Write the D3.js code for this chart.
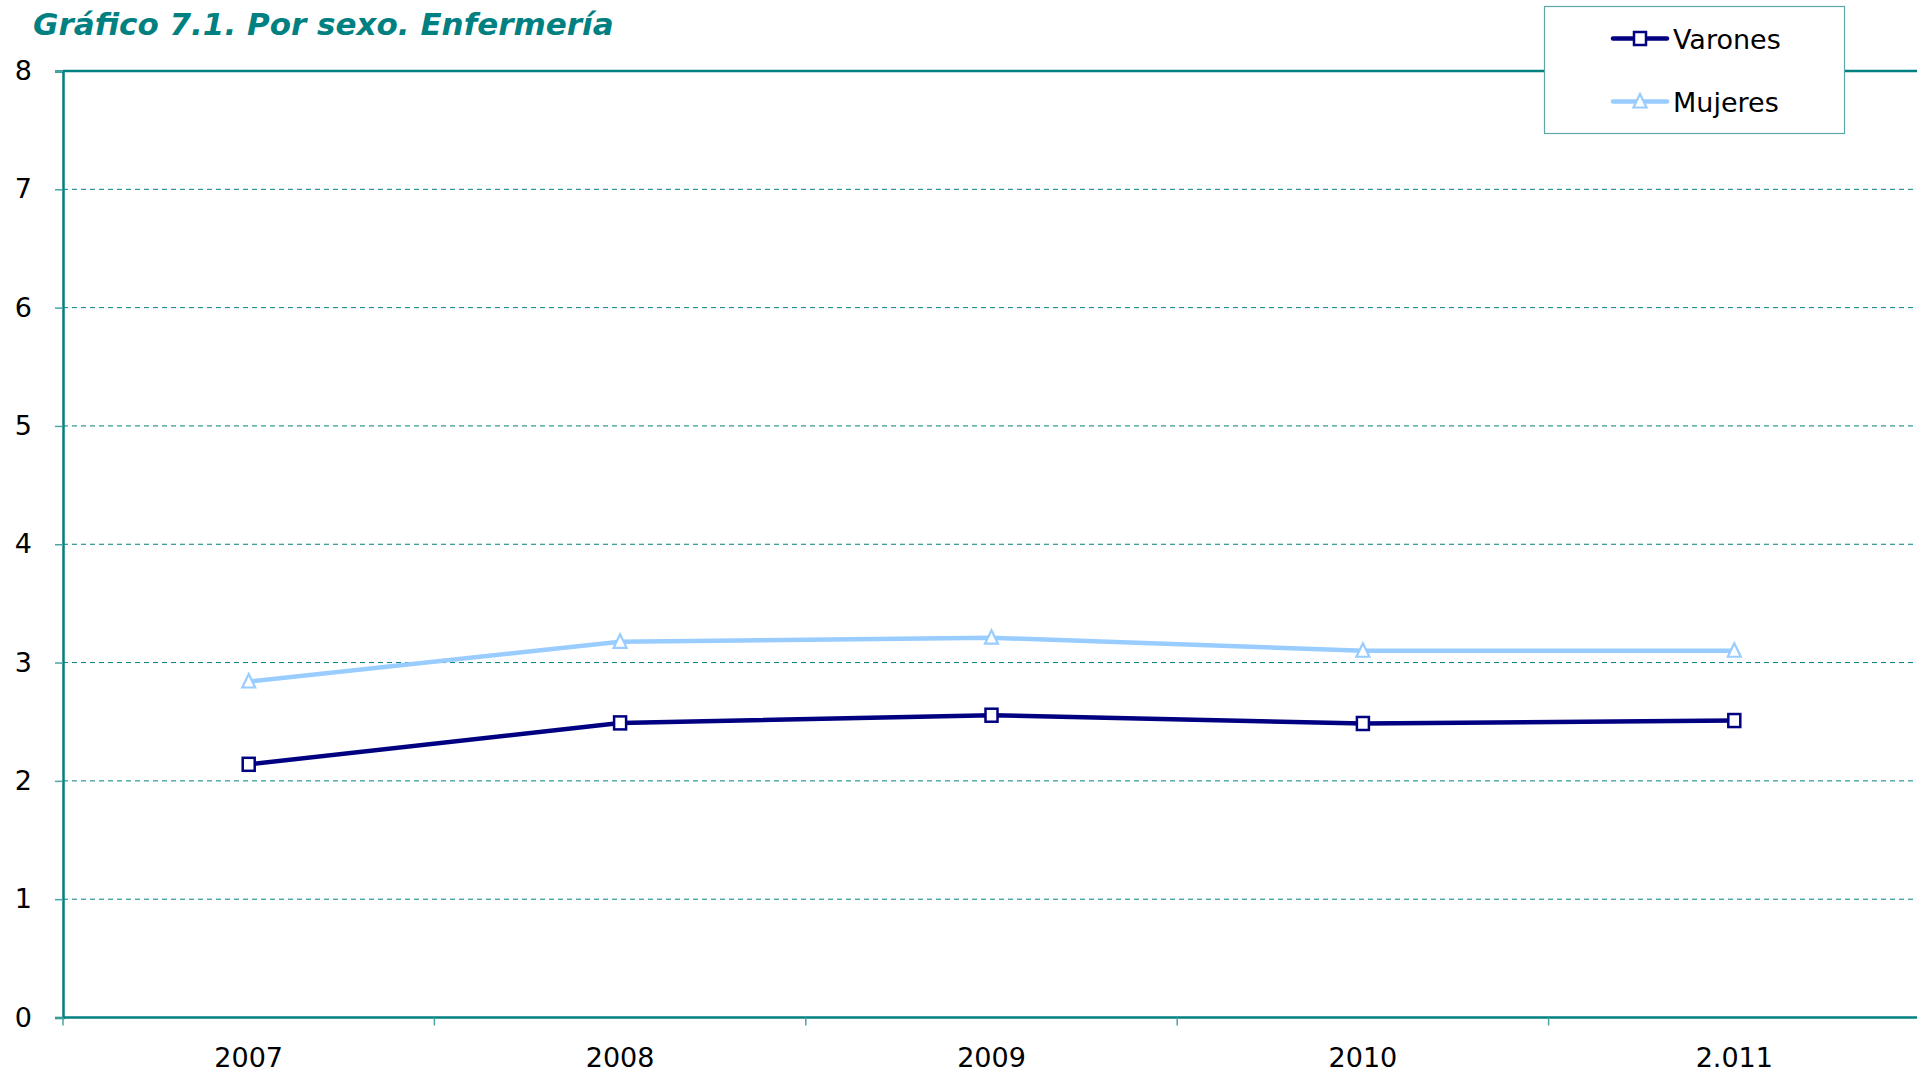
<!DOCTYPE html>
<html>
<head>
<meta charset="utf-8">
<script src="https://cdn.jsdelivr.net/npm/d3@7"></script>
<style>
  body { margin: 0; background: #fff; overflow: hidden; }
  text { font-family: "DejaVu Sans", Verdana, sans-serif; }
</style>
</head>
<body>
<svg id="chart"></svg>
<script>
// data
var years = ["2007", "2008", "2009", "2010", "2.011"]
var varones = [2.14, 2.49, 2.555, 2.485, 2.51]
var mujeres = [2.84, 3.175, 3.21, 3.10, 3.10]
var yTicks = [0, 1, 2, 3, 4, 5, 6, 7, 8]

var width = 1917, height = 1074
var margins = {left: 63, top: 71, bottom: 1017.5}
var band = 371.4
var teal = "#008080"

var svg = d3.select("#chart")
  .attr("width", width)
  .attr("height", height)

var xScale = d3.scaleBand()
  .domain(years)
  .range([margins.left, margins.left + band * years.length])
  .padding(0)

var yScale = d3.scaleLinear()
  .domain([0, 8])
  .range([margins.bottom, margins.top])

// title
svg.append("text")
  .attr("x", 33)
  .attr("y", 35)
  .attr("font-size", 31)
  .attr("font-weight", "bold")
  .attr("font-style", "italic")
  .attr("fill", teal)
  .text("Gráfico 7.1. Por sexo. Enfermería")

// dashed gridlines
svg.append("g")
  .selectAll("line")
  .data(yTicks.filter(d => d > 0 && d < 8))
  .enter().append("line")
  .attr("x1", margins.left)
  .attr("x2", width)
  .attr("y1", d => yScale(d))
  .attr("y2", d => yScale(d))
  .attr("stroke", teal)
  .attr("stroke-width", 1)
  .attr("stroke-dasharray", "5,4")

// top border of plot
svg.append("line")
  .attr("x1", margins.left).attr("x2", width)
  .attr("y1", yScale(8)).attr("y2", yScale(8))
  .attr("stroke", teal).attr("stroke-width", 2.5)

// y axis
var yAxis = svg.append("g")
  .attr("transform", "translate(" + margins.left + ",0)")
  .call(d3.axisLeft(yScale).tickValues(yTicks).tickSize(8).tickFormat(d3.format("d")))
yAxis.select(".domain").attr("stroke", teal).attr("stroke-width", 2.5)
yAxis.selectAll(".tick line").attr("stroke", "#4aa5a5").attr("stroke-width", 1.5)
yAxis.selectAll(".tick text").attr("font-size", 27).attr("fill", "#000")
  .attr("font-family", "DejaVu Sans")
  .attr("x", -31)

// x axis (ticks at category boundaries)
var xAxis = svg.append("g")
  .attr("transform", "translate(0," + margins.bottom + ")")
xAxis.append("line")
  .attr("x1", margins.left).attr("x2", width)
  .attr("stroke", teal).attr("stroke-width", 2.5)
xAxis.selectAll(".xtick")
  .data(years)
  .enter().append("line")
  .attr("class", "xtick")
  .attr("x1", d => xScale(d)).attr("x2", d => xScale(d))
  .attr("y1", 0).attr("y2", 8)
  .attr("stroke", "#4aa5a5").attr("stroke-width", 1.5)
xAxis.selectAll(".xlabel")
  .data(years)
  .enter().append("text")
  .attr("class", "xlabel")
  .attr("x", d => xScale(d) + xScale.bandwidth() / 2)
  .attr("y", 49)
  .attr("text-anchor", "middle")
  .attr("font-size", 27)
  .text(d => d)

var line = d3.line()
  .x((d, i) => xScale(years[i]) + xScale.bandwidth() / 2)
  .y(d => yScale(d))

var series = [
  {name: "Varones", values: varones, color: "#000080", marker: "square"},
  {name: "Mujeres", values: mujeres, color: "#99CCFF", marker: "triangle"}
]

function drawMarker(g, type, color, x, y) {
  if (type == "square") {
    g.append("rect")
      .attr("x", x - 6).attr("y", y - 6.5)
      .attr("width", 12).attr("height", 13)
      .attr("fill", "#fff").attr("stroke", color).attr("stroke-width", 2.5)
  } else {
    g.append("path")
      .attr("d", "M" + x + "," + (y - 7.5) + "L" + (x + 6.5) + "," + (y + 6) + "L" + (x - 6.5) + "," + (y + 6) + "Z")
      .attr("fill", "#fff").attr("stroke", color).attr("stroke-width", 2.2)
  }
}

series.forEach(s => {
  var g = svg.append("g")
  g.append("path")
    .attr("d", line(s.values))
    .attr("fill", "none")
    .attr("stroke", s.color)
    .attr("stroke-width", 4.5)
  s.values.forEach((v, i) => {
    drawMarker(g, s.marker, s.color, xScale(years[i]) + xScale.bandwidth() / 2, yScale(v))
  })
})

// legend
var legend = svg.append("g")
legend.append("rect")
  .attr("x", 1544.5).attr("y", 6.5)
  .attr("width", 300).attr("height", 127)
  .attr("fill", "#fff")
  .attr("stroke", "#5aa8a8").attr("stroke-width", 1.2)

series.forEach((s, i) => {
  var y = 38.5 + i * 63
  legend.append("line")
    .attr("x1", 1613).attr("x2", 1667)
    .attr("y1", y).attr("y2", y)
    .attr("stroke", s.color).attr("stroke-width", 4.5)
    .attr("stroke-linecap", "round")
  drawMarker(legend, s.marker, s.color, 1640, y)
  legend.append("text")
    .attr("x", 1673)
    .attr("y", y + 10)
    .attr("font-size", 27)
    .text(s.name)
})
</script>
</body>
</html>
